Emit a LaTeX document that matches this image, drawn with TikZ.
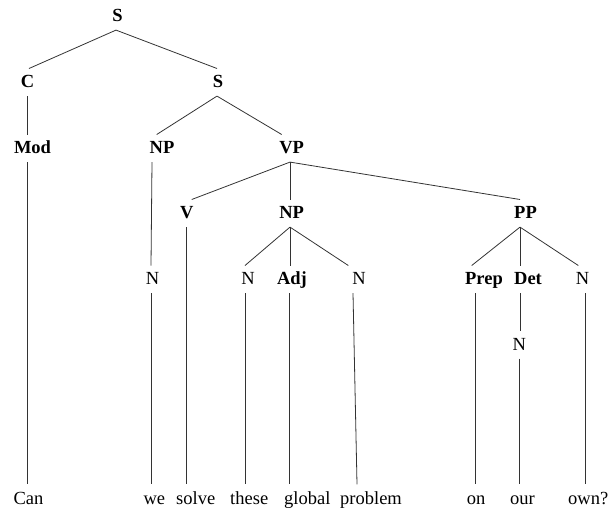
\documentclass[tikz,border=0pt]{standalone}
\usepackage{fontspec}
\setmainfont{Liberation Serif}
\begin{document}
\begin{tikzpicture}[x=1pt,y=-1pt,
  every node/.style={font=\fontsize{18.5}{22}\selectfont},
  cat/.style={anchor=base, text height=14.8pt, text depth=4.4pt, inner ysep=4pt, inner xsep=0pt, font=\fontsize{18.5}{22}\selectfont\bfseries},
  lex/.style={anchor=base, text height=14.8pt, text depth=4.4pt, inner ysep=4pt, inner xsep=0pt},
  word/.style={anchor=base west, text height=13.5pt, text depth=4pt, inner ysep=6pt, inner xsep=0pt},
  edge/.style={draw=black!80, line width=0.8pt}]
\useasboundingbox (0,0) rectangle (609,509);
% level 0
\node[cat] (s0) at (117.5,21.5) {S};
% level 1
\node[cat] (c) at (27.5,87.5) {C};
\node[cat] (s1) at (218,87.5) {S};
% level 2
\node[cat] (mod) at (32.5,153.5) {Mod};
\node[cat] (np1) at (162,153.5) {NP};
\node[cat] (vp) at (291.7,153.5) {VP};
% level 3
\node[cat] (v) at (186.7,218.5) {V};
\node[cat] (np2) at (291.7,218.5) {NP};
\node[cat] (pp) at (525.5,218.5) {PP};
% level 4
\node[lex] (nwe) at (152.5,284.5) {N};
\node[lex] (nthese) at (248,284.5) {N};
\node[cat] (adj) at (292,284.5) {Adj};
\node[lex] (nprob) at (359,284.5) {N};
\node[cat] (prep) at (484,284.5) {Prep};
\node[cat] (det) at (528,284.5) {Det};
\node[lex] (nown) at (582.5,284.5) {N};
% level 5
\node[lex] (nour) at (519.3,350) {N};
% words
\node[word] (can) at (13.3,504) {Can};
\node[word] (we) at (143.3,504) {we};
\node[word] (solve) at (176,504) {solve};
\node[word] (these) at (230,504) {these};
\node[word] (global) at (284,504) {global};
\node[word] (problem) at (340,504) {problem};
\node[word] (on) at (466.7,504) {on};
\node[word] (our) at (510,504) {our};
\node[word] (own) at (568,504) {own?};
% edges
\draw[edge] ([xshift=-1.5pt]s0.south) -- ([xshift=1.5pt]c.north);
\draw[edge] ([xshift=-1.5pt]s0.south) -- ([xshift=-1pt]s1.north);
\draw[edge] ([xshift=-0.5pt]c.south) -- ([xshift=-5.5pt]mod.north);
\draw[edge] ([xshift=-5.5pt]mod.south) -- ([xshift=-5.5pt]mod.south |- can.north);
\draw[edge] ([xshift=-1pt]s1.south) -- ([xshift=-5.3pt]np1.north);
\draw[edge] ([xshift=-1pt]s1.south) -- ([xshift=-10pt]vp.north);
\draw[edge] ([xshift=-10pt]np1.south) -- ([xshift=-1.5pt]nwe.north);
\draw[edge] ([xshift=-1.5pt]nwe.south) -- ([xshift=-1.5pt]nwe.south |- we.north);
\draw[edge] ([xshift=-1.7pt]vp.south) -- ([xshift=5pt]v.north);
\draw[edge] ([xshift=-1.7pt]vp.south) -- ([xshift=-1.7pt]np2.north);
\draw[edge] ([xshift=-1.7pt]vp.south) -- ([xshift=-5.5pt]pp.north);
\draw[edge] (v.south) -- (v.south |- solve.north);
\draw[edge] ([xshift=-1.7pt]np2.south) -- ([xshift=-3pt]nthese.north);
\draw[edge] ([xshift=-1.7pt]np2.south) -- ([xshift=-2pt]adj.north);
\draw[edge] ([xshift=-1.7pt]np2.south) -- ([xshift=-10.7pt]nprob.north);
\draw[edge] ([xshift=-3pt]nthese.south) -- ([xshift=-3pt]nthese.south |- these.north);
\draw[edge] ([xshift=-2.5pt]adj.south) -- ([xshift=-2.5pt]adj.south |- global.north);
\draw[edge] ([xshift=-6pt]nprob.south) -- ([xshift=-2pt]nprob.south |- problem.north);
\draw[edge] ([xshift=-5.5pt]pp.south) -- ([xshift=-12.3pt]prep.north);
\draw[edge] ([xshift=-5.5pt]pp.south) -- ([xshift=-8pt]det.north);
\draw[edge] ([xshift=-5.5pt]pp.south) -- ([xshift=-4.2pt]nown.north);
\draw[edge] ([xshift=-8.5pt]prep.south) -- ([xshift=-8.5pt]prep.south |- on.north);
\draw[edge] ([xshift=-8pt]det.south) -- ([xshift=0.7pt]nour.north);
\draw[edge] (nour.south) -- (nour.south |- our.north);
\draw[edge] ([xshift=2.5pt]nown.south) -- ([xshift=2.5pt]nown.south |- own.north);
\end{tikzpicture}
\end{document}
